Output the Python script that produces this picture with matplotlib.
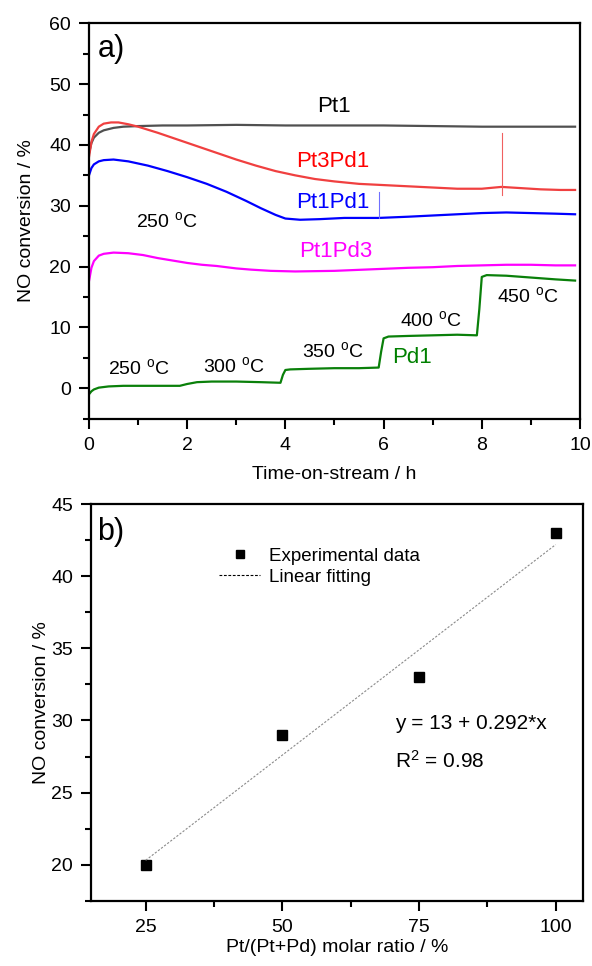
import matplotlib
matplotlib.use("Agg")
import matplotlib.pyplot as plt
from matplotlib.ticker import MultipleLocator
import numpy as np

plt.rcParams['font.family'] = ['Liberation Sans', 'DejaVu Sans']
plt.rcParams['mathtext.fontset'] = 'custom'
plt.rcParams['mathtext.rm'] = 'Liberation Sans'
plt.rcParams['mathtext.it'] = 'Liberation Sans:italic'

# ---- panel a): NO conversion vs time-on-stream ----
pt1_t = [0, 0.05, 0.1, 0.2, 0.3, 0.5, 0.7, 1.0, 1.5, 2, 3, 4, 5, 6, 7, 8, 9, 9.9]
pt1_v = [38.6, 40.3, 41.2, 42.0, 42.4, 42.8, 43.0, 43.1, 43.2, 43.2, 43.3, 43.2,
         43.2, 43.2, 43.1, 43.0, 43.0, 43.0]

pt3pd1_t = [0, 0.05, 0.1, 0.2, 0.3, 0.45, 0.6, 0.8, 1.0, 1.4, 1.8, 2.2, 2.6, 3.0,
            3.4, 3.8, 4.2, 4.6, 5.0, 5.5, 6.0, 6.5, 7.0, 7.5, 8.0, 8.4, 8.8, 9.2,
            9.6, 9.9]
pt3pd1_v = [38.0, 40.5, 41.8, 43.0, 43.5, 43.7, 43.7, 43.4, 43.0, 42.0, 40.9, 39.8,
            38.7, 37.6, 36.6, 35.7, 35.0, 34.4, 34.0, 33.6, 33.4, 33.2, 33.0, 32.8,
            32.8, 33.1, 32.9, 32.7, 32.6, 32.6]
pt3pd1_spike_t = [8.41, 8.41]
pt3pd1_spike_v = [31.8, 42.0]

pt1pd1_t = [0, 0.05, 0.1, 0.2, 0.3, 0.5, 0.8, 1.2, 1.6, 2.0, 2.4, 2.8, 3.2, 3.5,
            3.8, 4.0, 4.3, 4.7, 5.2, 5.9, 6.5, 7.0, 7.5, 8.0, 8.5, 9.0, 9.5, 9.9]
pt1pd1_v = [35.0, 36.2, 36.8, 37.3, 37.5, 37.6, 37.3, 36.6, 35.7, 34.7, 33.6, 32.3,
            30.8, 29.6, 28.5, 27.9, 27.7, 27.8, 28.0, 28.0, 28.2, 28.4, 28.6, 28.8,
            28.9, 28.8, 28.7, 28.6]
pt1pd1_spike_t = [5.9, 5.9]
pt1pd1_spike_v = [28.0, 32.3]

pt1pd3_t = [0, 0.05, 0.1, 0.2, 0.3, 0.5, 0.8, 1.1, 1.4, 1.7, 2.0, 2.3, 2.6, 3.0,
            3.3, 3.7, 4.2, 5.0, 5.9, 6.5, 7.0, 7.5, 8.0, 8.5, 9.0, 9.5, 9.9]
pt1pd3_v = [17.6, 19.8, 20.9, 21.8, 22.1, 22.3, 22.2, 21.9, 21.4, 21.0, 20.6, 20.3,
            20.1, 19.7, 19.5, 19.3, 19.2, 19.3, 19.6, 19.8, 19.9, 20.1, 20.2, 20.3,
            20.3, 20.2, 20.2]

pd1_t = [0, 0.05, 0.1, 0.2, 0.4, 0.7, 1.0, 1.5, 1.85, 2.0, 2.2, 2.5, 3.0, 3.5, 3.9,
         3.95, 4.0, 4.1, 4.5, 5.0, 5.5, 5.9, 5.95, 6.0, 6.1, 6.5, 7.0, 7.5, 7.9,
         7.95, 8.0, 8.1, 8.5, 9.0, 9.5, 9.9]
pd1_v = [-1.0, -0.5, -0.2, 0.1, 0.3, 0.4, 0.4, 0.4, 0.4, 0.7, 1.0, 1.1, 1.1, 1.0,
         0.9, 2.2, 3.0, 3.1, 3.2, 3.3, 3.3, 3.4, 6.0, 8.2, 8.5, 8.6, 8.7, 8.8, 8.7,
         13.0, 18.3, 18.6, 18.5, 18.2, 17.9, 17.7]

series_labels = ["Pt1", "Pt3Pd1", "Pt1Pd1", "Pt1Pd3", "Pd1"]
temp_labels = ["250", "250", "300", "350", "400", "450"]

# ---- panel b): conversion vs Pt fraction ----
pt_ratio = [25, 50, 75, 100]
conversion = [20, 29, 33, 43]
fit_intercept = 13
fit_slope = 0.292
r_squared = 0.98

fig = plt.figure(figsize=(5.92, 9.66), dpi=100)
ax1 = fig.add_axes([0.1503, 0.5666, 0.8294, 0.4093])
ax2 = fig.add_axes([0.1537, 0.0676, 0.8311, 0.4104])

lw = 1.6
ax1.plot(pt1_t, pt1_v, color='#505050', lw=lw)
ax1.plot(pt3pd1_t, pt3pd1_v, color='#f04040', lw=lw)
ax1.plot(pt3pd1_spike_t, pt3pd1_spike_v, color='#f06060', lw=0.8)
ax1.plot(pt1pd1_t, pt1pd1_v, color='#0000ff', lw=lw)
ax1.plot(pt1pd1_spike_t, pt1pd1_spike_v, color='#7070ff', lw=0.8)
ax1.plot(pt1pd3_t, pt1pd3_v, color='#ff00ff', lw=lw)
ax1.plot(pd1_t, pd1_v, color='#0a800a', lw=lw)

ax1.set_xlim(0, 10)
ax1.set_ylim(-5, 60)
ax1.xaxis.set_major_locator(MultipleLocator(2))
ax1.xaxis.set_minor_locator(MultipleLocator(1))
ax1.yaxis.set_major_locator(MultipleLocator(10))
ax1.yaxis.set_minor_locator(MultipleLocator(5))

label_fs = 16
ax1.text(4.98, 46.4, series_labels[0], color='black', fontsize=label_fs, ha='center', va='center')
ax1.text(4.97, 37.2, series_labels[1], color='#ff0000', fontsize=label_fs, ha='center', va='center')
ax1.text(4.97, 30.6, series_labels[2], color='#0000ff', fontsize=label_fs, ha='center', va='center')
ax1.text(5.03, 22.4, series_labels[3], color='#ff00ff', fontsize=label_fs, ha='center', va='center')
ax1.text(6.58, 5.1, series_labels[4], color='#008000', fontsize=label_fs, ha='center', va='center')

temp_pos = [(1.58, 27.5), (1.02, 3.3), (2.94, 3.65), (4.96, 6.1), (6.97, 11.3), (8.93, 15.2)]
for (x, y), t in zip(temp_pos, temp_labels):
    ax1.text(x, y, t + r" $^{\mathregular{o}}$C", fontsize=14, ha='center', va='center')

ax1.text(0.018, 0.936, "a)", transform=ax1.transAxes, fontsize=22, ha='left', va='center')
ax1.set_xlabel("Time-on-stream / h", fontsize=14, va='center')
ax1.set_ylabel("NO conversion / %", fontsize=14, va='center')
ax1.xaxis.set_label_coords(0.5, -0.142)
ax1.yaxis.set_label_coords(-0.128, 0.5)

# panel b
ax2.plot(pt_ratio, conversion, linestyle='none', marker='s', markersize=6.5,
         color='black', label='Experimental data')
fit_x = np.array([pt_ratio[0], pt_ratio[-1]])
ax2.plot(fit_x, fit_intercept + fit_slope * fit_x, color='#8a8a8a', lw=0.8,
         linestyle=(0, (2, 1.5)))
# legend entry for the fit, drawn in black as in the key
ax2.plot([], [], color='black', lw=0.8, linestyle=(0, (2.5, 1.5)), label='Linear fitting')

ax2.set_xlim(15, 105)
ax2.set_ylim(17.5, 45)
ax2.xaxis.set_major_locator(MultipleLocator(25))
ax2.xaxis.set_minor_locator(MultipleLocator(12.5))
ax2.yaxis.set_major_locator(MultipleLocator(5))
ax2.yaxis.set_minor_locator(MultipleLocator(2.5))

leg = ax2.legend(loc='upper left', bbox_to_anchor=(0.26, 0.89), frameon=False,
                 fontsize=13.5, borderpad=0, borderaxespad=0, handlelength=2.2,
                 handletextpad=0.45, labelspacing=0.2, markerscale=0.95)

ax2.text(70.7, 29.8, f"y = {fit_intercept} + {fit_slope}*x", fontsize=15, ha='left', va='center')
ax2.text(70.7, 27.2, r"R$^{\mathregular{2}}$ = " + f"{r_squared}", fontsize=15, ha='left', va='center')
ax2.text(0.012, 0.929, "b)", transform=ax2.transAxes, fontsize=22, ha='left', va='center')
ax2.set_xlabel("Pt/(Pt+Pd) molar ratio / %", fontsize=14, va='center')
ax2.set_ylabel("NO conversion / %", fontsize=14, va='center')
ax2.xaxis.set_label_coords(0.5, -0.117)
ax2.yaxis.set_label_coords(-0.1, 0.5)

for ax in (ax1, ax2):
    for s in ax.spines.values():
        s.set_linewidth(1.6)
    ax.tick_params(which='major', direction='out', length=7, width=1.5, labelsize=14, pad=6)
    ax.tick_params(which='minor', direction='out', length=4, width=1.5)
    ax.tick_params(top=False, right=False, which='both')

fig.savefig("out.png", dpi=100)
